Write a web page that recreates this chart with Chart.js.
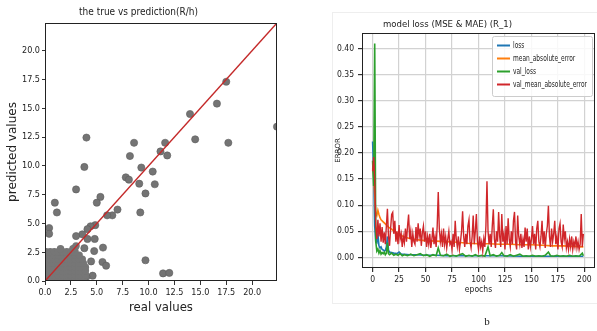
<!DOCTYPE html>
<html>
<head>
<meta charset="utf-8">
<script src="https://cdn.jsdelivr.net/npm/chart.js@4.4.0/dist/chart.umd.min.js"></script>
<style>
  html, body { margin: 0; padding: 0; background: #fff; }
  body { width: 597px; height: 331px; position: relative; overflow: hidden; }
  canvas { position: absolute; top: 0; }
  #scatterChart { left: 0; }
  #lossChart { left: 300px; }
</style>
</head>
<body>
<canvas id="scatterChart" width="300" height="331"></canvas>
<canvas id="lossChart" width="297" height="331"></canvas>
<script>
// ---- left panel: true vs prediction ----
const axisTicks = [0, 2.5, 5, 7.5, 10, 12.5, 15, 17.5, 20];
const axisRange = [0, 22.4];
const identityLine = [0, 22.4];

// dense cluster near the origin [real, predicted]
const clusterPoints = [
  [0.1,0.15],[0.5,0.15],[0.9,0.15],[1.3,0.15],[1.7,0.15],[2.1,0.15],[2.5,0.15],[2.9,0.15],[3.3,0.15],[3.7,0.15],
  [0.1,0.5],[0.5,0.5],[0.9,0.5],[1.3,0.5],[1.7,0.5],[2.1,0.5],[2.5,0.5],[2.9,0.5],[3.3,0.5],[3.7,0.5],[3.9,0.55],
  [0.1,0.85],[0.5,0.85],[0.9,0.85],[1.3,0.85],[1.7,0.85],[2.1,0.85],[2.5,0.85],[2.9,0.85],[3.3,0.85],[3.7,0.85],[3.9,0.9],
  [0.1,1.2],[0.5,1.2],[0.9,1.2],[1.3,1.2],[1.7,1.2],[2.1,1.2],[2.5,1.2],[2.9,1.2],[3.3,1.2],[3.7,1.2],[3.9,1.2],
  [0.1,1.55],[0.5,1.55],[0.9,1.55],[1.3,1.55],[1.7,1.55],[2.1,1.55],[2.5,1.55],[2.9,1.55],[3.3,1.55],[3.7,1.55],
  [0.1,1.9],[0.5,1.9],[0.9,1.9],[1.3,1.9],[1.7,1.9],[2.1,1.9],[2.5,1.9],[2.9,1.9],[3.3,1.9],[3.6,1.9],
  [0.1,2.25],[0.5,2.25],[0.9,2.25],[1.3,2.25],[1.7,2.25],[2.1,2.25],[2.5,2.25],[2.9,2.25],[3.3,2.25],
  [0.1,2.55],[0.5,2.55],[0.9,2.55],[1.3,2.55],[1.7,2.55],[2.1,2.55],[2.5,2.55],[2.9,2.55],
  [1.5,2.8],[2.7,2.8],[2.9,2.9],[3.0,3.05]
];
// scattered predictions
const outlierPoints = [
  [22.4,13.4],[17.5,17.3],[16.6,15.4],[17.7,12.0],[14.5,12.3],[14.0,14.5],[11.6,12.0],[11.15,11.25],
  [11.8,10.9],[8.6,12.0],[8.2,10.85],[9.3,9.85],[10.4,9.5],[7.8,9.0],[8.1,8.8],[9.1,8.45],[10.6,8.4],
  [9.7,7.6],[9.2,5.95],[9.7,1.8],[11.4,0.66],[12.0,0.7],[4.0,12.45],[3.8,9.9],[3.0,7.95],[5.35,7.3],
  [5.0,6.8],[7.0,6.2],[6.5,5.7],[6.0,5.7],[0.95,6.8],[1.15,5.95],[0.4,4.6],[0.4,4.1],[4.85,4.85],
  [4.4,4.75],[4.1,4.5],[4.8,3.65],[4.1,3.65],[3.8,2.85],[4.75,2.6],[5.6,2.9],[4.45,1.7],[5.55,1.65],
  [5.9,1.33],[4.6,0.46],[4.0,0.37],[3.6,4.05],[3.0,3.9]
];

// ---- right panel: model loss ----
const epochTicks = [0, 25, 50, 75, 100, 125, 150, 175, 200];
const errorTicks = [0, 0.05, 0.10, 0.15, 0.20, 0.25, 0.30, 0.35, 0.40];
const epochRange = [-10, 210];
const errorRange = [-0.0205, 0.43];
const seriesNames = ['loss', 'mean_absolute_error', 'val_loss', 'val_mean_absolute_error'];
const seriesColors = ['#1f77b4', '#ff7f0e', '#2ca02c', '#d0262a'];

// [epoch, value]
const lossValues = [
  [0,0.222],[1,0.165],[2,0.06],[3,0.03],[4,0.028],[5,0.045],[6,0.022],[7,0.018],[8,0.02],[9,0.015],
  [10,0.014],[11,0.012],[12,0.013],[13,0.02],[14,0.04],[15,0.014],[16,0.01],[18,0.009],[20,0.008],
  [23,0.007],[25,0.01],[27,0.006],[30,0.006],[35,0.005],[40,0.005],[50,0.004],[60,0.004],[70,0.003],
  [80,0.003],[100,0.003],[120,0.003],[140,0.002],[160,0.002],[180,0.002],[199,0.002]
];
const maeValues = [
  [0,0.17],[1,0.16],[2,0.12],[3,0.085],[4,0.08],[5,0.09],[6,0.082],[7,0.076],[8,0.072],[10,0.068],
  [12,0.064],[15,0.058],[18,0.054],[20,0.05],[25,0.044],[30,0.039],[35,0.036],[40,0.034],[45,0.033],
  [50,0.032],[60,0.031],[70,0.03],[80,0.029],[90,0.027],[100,0.026],[110,0.026],[120,0.025],[130,0.025],
  [140,0.024],[150,0.024],[160,0.023],[170,0.022],[180,0.022],[190,0.021],[199,0.02]
];
const valLossValues = [
  [0,0.185],[1,0.137],[2,0.41],[3,0.03],[4,0.012],[5,0.016],[6,0.008],[7,0.013],[8,0.006],[9,0.009],
  [10,0.007],[11,0.01],[12,0.005],[13,0.008],[14,0.028],[15,0.007],[16,0.005],[18,0.008],[20,0.004],
  [22,0.006],[24,0.004],[26,0.007],[28,0.003],[30,0.005],[33,0.003],[36,0.006],[39,0.003],[42,0.005],
  [45,0.007],[48,0.003],[51,0.005],[54,0.002],[57,0.005],[60,0.003],[62,0.018],[64,0.004],[67,0.003],
  [70,0.006],[73,0.002],[76,0.004],[79,0.002],[82,0.005],[85,0.007],[88,0.002],[91,0.004],[94,0.002],
  [97,0.005],[100,0.002],[103,0.004],[106,0.002],[109,0.02],[111,0.003],[114,0.005],[117,0.002],
  [120,0.004],[122,0.009],[124,0.003],[127,0.002],[130,0.005],[133,0.002],[136,0.004],[139,0.006],
  [142,0.002],[145,0.003],[148,0.002],[151,0.004],[154,0.002],[157,0.003],[160,0.002],[163,0.004],
  [166,0.01],[168,0.003],[171,0.002],[174,0.004],[177,0.002],[180,0.003],[183,0.002],[186,0.004],
  [189,0.002],[192,0.003],[195,0.002],[198,0.008],[199,0.003]
];
// one value per epoch, 0..199
const valMaeValues = [
  0.165,0.192,0.150,0.060,0.035,0.072,0.040,0.065,0.030,0.058,
  0.028,0.048,0.025,0.060,0.093,0.040,0.022,0.055,0.082,0.086,
  0.045,0.070,0.030,0.050,0.025,0.062,0.035,0.045,0.020,0.040,
  0.028,0.055,0.030,0.060,0.082,0.035,0.050,0.020,0.045,0.030,
  0.025,0.058,0.030,0.065,0.040,0.055,0.022,0.048,0.060,0.030,
  0.050,0.020,0.040,0.025,0.045,0.018,0.035,0.057,0.025,0.040,
  0.020,0.060,0.125,0.055,0.030,0.045,0.020,0.055,0.025,0.040,
  0.018,0.035,0.050,0.025,0.030,0.015,0.045,0.020,0.070,0.035,
  0.020,0.040,0.015,0.030,0.050,0.088,0.040,0.020,0.045,0.025,
  0.060,0.072,0.030,0.018,0.040,0.080,0.025,0.050,0.083,0.030,
  0.015,0.040,0.020,0.030,0.012,0.035,0.020,0.060,0.146,0.050,
  0.025,0.045,0.020,0.060,0.092,0.035,0.018,0.050,0.030,0.087,
  0.040,0.020,0.083,0.030,0.045,0.015,0.060,0.025,0.075,0.035,
  0.020,0.050,0.025,0.070,0.087,0.030,0.015,0.080,0.040,0.025,
  0.045,0.018,0.035,0.020,0.057,0.030,0.055,0.015,0.040,0.020,
  0.035,0.060,0.025,0.045,0.015,0.055,0.070,0.030,0.020,0.040,
  0.070,0.025,0.050,0.018,0.045,0.060,0.099,0.040,0.020,0.055,
  0.030,0.045,0.070,0.025,0.040,0.015,0.055,0.065,0.030,0.020,
  0.063,0.035,0.050,0.018,0.030,0.015,0.035,0.020,0.040,0.015,
  0.030,0.020,0.040,0.018,0.030,0.015,0.025,0.083,0.020,0.045
];

const NARROW = '"DejaVu Sans Condensed", "Liberation Sans", sans-serif';
Chart.defaults.font.family = NARROW;
Chart.defaults.color = '#222';

const pairs = arr => arr.map(p => ({ x: p[0], y: p[1] }));
const useTicks = list => scale => { scale.ticks = list.map(v => ({ value: v })); };

// black box round the plot area + free text
const framePlugin = {
  id: 'frame',
  afterDraw(chart, args, opts) {
    const { ctx, chartArea: a } = chart;
    ctx.save();
    ctx.strokeStyle = opts.color || '#222';
    ctx.lineWidth = 1;
    ctx.strokeRect(Math.round(a.left) + 0.5, Math.round(a.top) + 0.5,
                   Math.round(a.right - a.left) - 1, Math.round(a.bottom - a.top) - 1);
    (opts.texts || []).forEach(t => {
      ctx.font = t.font;
      ctx.fillStyle = '#222';
      ctx.textAlign = 'center';
      ctx.textBaseline = 'middle';
      ctx.fillText(t.text, t.x, t.y);
    });
    if (opts.outer) {
      ctx.strokeStyle = '#eeeeee';
      ctx.strokeRect(opts.outer[0] + 0.5, opts.outer[1] + 0.5, opts.outer[2], opts.outer[3]);
    }
    ctx.restore();
  }
};

// matplotlib-like legend inside the upper right corner
const boxLegend = {
  id: 'boxLegend',
  afterDraw(chart) {
    const { ctx, chartArea: a } = chart;
    const w = 100, h = 60, x = a.right - w - 3, y = a.top + 3;
    ctx.save();
    ctx.fillStyle = 'rgba(255,255,255,0.85)';
    ctx.strokeStyle = '#cccccc';
    ctx.lineWidth = 1;
    ctx.beginPath();
    ctx.roundRect(x + 0.5, y + 0.5, w, h, 2);
    ctx.fill();
    ctx.stroke();
    ctx.textBaseline = 'middle';
    chart.data.datasets.forEach((ds, i) => {
      const ly = y + 9.5 + i * 13;
      ctx.strokeStyle = ds.borderColor;
      ctx.lineWidth = 2;
      ctx.beginPath();
      ctx.moveTo(x + 5, ly);
      ctx.lineTo(x + 18, ly);
      ctx.stroke();
      ctx.save();
      ctx.translate(x + 21, ly);
      ctx.scale(0.82, 1);
      ctx.font = '8px ' + NARROW;
      ctx.fillStyle = '#222';
      ctx.fillText(ds.label, 0, 0);
      ctx.restore();
    });
    ctx.restore();
  }
};

new Chart(document.getElementById('scatterChart'), {
  type: 'scatter',
  data: {
    datasets: [
      {
        label: 'fit',
        data: identityLine.map(v => ({ x: v, y: v })),
        showLine: true,
        borderColor: '#c42a2a',
        borderWidth: 1.5,
        pointRadius: 0,
        order: 0
      },
      {
        label: 'cluster',
        data: pairs(clusterPoints),
        backgroundColor: '#767676',
        borderColor: '#767676',
        borderWidth: 0,
        pointRadius: 3.7,
        order: 1
      },
      {
        label: 'predictions',
        data: pairs(outlierPoints),
        backgroundColor: '#747474',
        borderColor: '#5e5e5e',
        borderWidth: 0.6,
        pointRadius: 3.6,
        order: 2
      }
    ]
  },
  options: {
    responsive: false,
    animation: false,
    layout: { padding: { left: 0, right: 23, top: 0, bottom: 0 } },
    plugins: {
      legend: { display: false },
      tooltip: { enabled: false },
      title: {
        display: true,
        text: 'the true vs prediction(R/h)',
        font: { size: 10, weight: 'normal' },
        color: '#222',
        padding: { top: 6, bottom: 5 }
      },
      frame: { texts: [{ text: 'a', x: 153, y: 333, font: '11px "Liberation Serif", serif' }] }
    },
    scales: {
      x: {
        type: 'linear',
        min: axisRange[0], max: axisRange[1],
        afterBuildTicks: useTicks(axisTicks),
        afterFit: s => { s.height = 50; },
        ticks: { callback: v => v.toFixed(1), font: { size: 9 }, padding: 2, maxRotation: 0 },
        grid: { drawOnChartArea: false, tickLength: 4, tickColor: '#333' },
        border: { display: false },
        title: { display: true, text: 'real values', font: { size: 13 }, color: '#222', padding: { top: 0, bottom: 16 } }
      },
      y: {
        type: 'linear',
        min: axisRange[0], max: axisRange[1],
        afterBuildTicks: useTicks(axisTicks),
        afterFit: s => { s.width = 45; },
        ticks: { callback: v => v.toFixed(1), font: { size: 9 }, padding: 2 },
        grid: { drawOnChartArea: false, tickLength: 3, tickColor: '#333' },
        border: { display: false },
        title: { display: true, text: 'predicted values', font: { size: 12, family: '"DejaVu Sans", sans-serif' }, color: '#222', padding: { top: 6, bottom: 0 } }
      }
    }
  },
  plugins: [framePlugin]
});

const lineSets = [lossValues, maeValues, valLossValues, valMaeValues.map((v, i) => [i, v])];

new Chart(document.getElementById('lossChart'), {
  type: 'line',
  data: {
    datasets: lineSets.map((vals, i) => ({
      label: seriesNames[i],
      data: pairs(vals),
      borderColor: seriesColors[i],
      borderWidth: i === 3 ? 1.4 : 1.6,
      pointRadius: 0,
      tension: 0,
      order: 3 - i
    }))
  },
  options: {
    responsive: false,
    animation: false,
    layout: { padding: { left: 0, right: 2, top: 0, bottom: 0 } },
    plugins: {
      legend: { display: false },
      tooltip: { enabled: false },
      title: {
        display: true,
        text: 'model loss (MSE & MAE) (R_1)',
        font: { size: 9.5, weight: 'normal' },
        color: '#222',
        padding: { top: 19, bottom: 2.6 }
      },
      frame: {
        texts: [{ text: 'b', x: 187, y: 322, font: '11px "Liberation Serif", serif' }],
        outer: [32, 12, 270, 291]
      }
    },
    scales: {
      x: {
        type: 'linear',
        min: epochRange[0], max: epochRange[1],
        afterBuildTicks: useTicks(epochTicks),
        afterFit: s => { s.height = 63; },
        ticks: { font: { size: 8.5 }, padding: 3, maxRotation: 0 },
        grid: { color: '#d2d2d2', lineWidth: 1.2, tickLength: 4, tickColor: '#333' },
        border: { display: false },
        title: { display: true, text: 'epochs', font: { size: 8.5 }, color: '#222', padding: { top: 0, bottom: 36 } }
      },
      y: {
        type: 'linear',
        min: errorRange[0], max: errorRange[1],
        afterBuildTicks: useTicks(errorTicks),
        afterFit: s => { s.width = 62; },
        ticks: { callback: v => v.toFixed(2), font: { size: 8.5 }, padding: 4 },
        grid: { color: '#d2d2d2', lineWidth: 1.2, tickLength: 4, tickColor: '#333' },
        border: { display: false },
        title: { display: true, text: 'ERROR', font: { size: 7, family: '"DejaVu Sans", sans-serif' }, color: '#222', padding: { top: 34, bottom: 0 } }
      }
    }
  },
  plugins: [framePlugin, boxLegend]
});
</script>
</body>
</html>
